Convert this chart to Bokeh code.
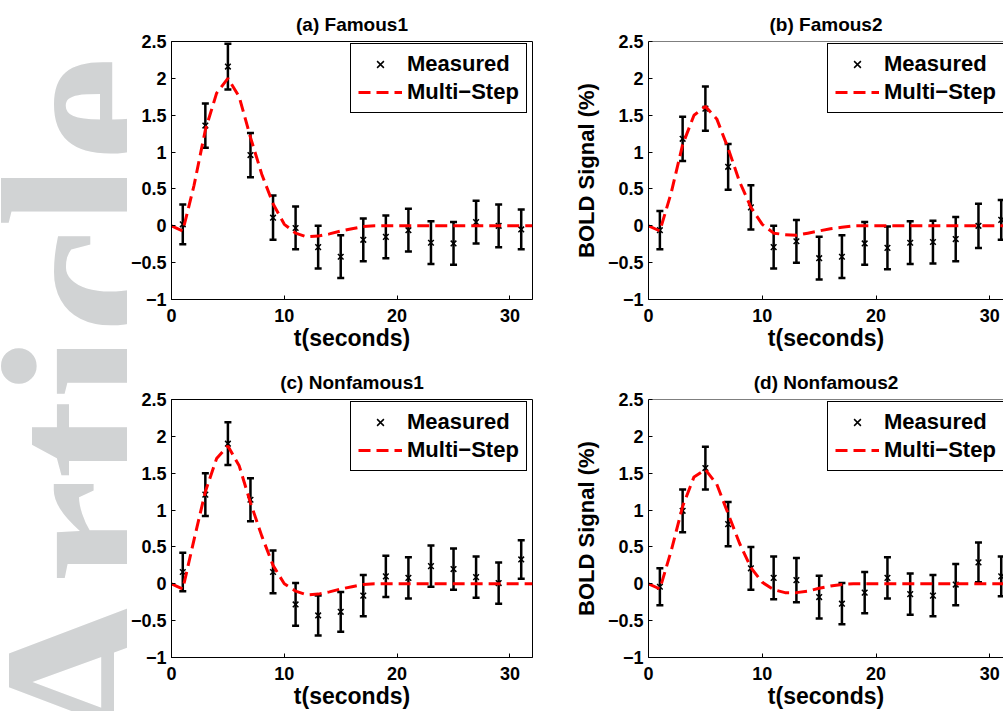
import math
from bokeh.plotting import figure
from bokeh.models import (Range1d, FixedTicker, Whisker, TeeHead, ColumnDataSource,
                          Legend, LegendItem, Label, Span)
from bokeh.layouts import row, column
from bokeh.embed import file_html
from bokeh.resources import INLINE

# ---------------- data ----------------
t_meas = [1, 3, 5, 7, 9, 11, 13, 15, 17, 19, 21, 23, 25, 27, 29, 31]
t_fit = list(range(0, 33))

famous1_mean = [0.02, 1.36, 2.16, 0.96, 0.11, -0.03, -0.29, -0.42, -0.19, -0.15, -0.06, -0.23, -0.24, 0.05, 0.00, -0.05]
famous1_err = [0.27, 0.30, 0.31, 0.30, 0.30, 0.29, 0.29, 0.29, 0.29, 0.29, 0.29, 0.29, 0.29, 0.29, 0.29, 0.27]
famous1_fit = [0, -0.07, 0.55, 1.3, 1.8, 2.0, 1.75, 1.2, 0.7, 0.3, 0.02, -0.1, -0.15, -0.14, -0.11, -0.07, -0.04,
               -0.01, 0, 0, 0, 0, 0, 0, 0, 0, 0, 0, 0, 0, 0, 0, 0]

famous2_mean = [-0.06, 1.18, 1.59, 0.80, 0.25, -0.29, -0.21, -0.44, -0.42, -0.24, -0.30, -0.23, -0.22, -0.18, 0.00, 0.08]
famous2_err = [0.26, 0.30, 0.30, 0.31, 0.30, 0.29, 0.29, 0.29, 0.29, 0.29, 0.29, 0.29, 0.29, 0.30, 0.30, 0.27]
famous2_fit = [0, -0.07, 0.45, 1.1, 1.5, 1.62, 1.45, 1.05, 0.6, 0.25, 0.02, -0.1, -0.12, -0.13, -0.1, -0.07, -0.04,
               -0.02, 0, 0, 0, 0, 0, 0, 0, 0, 0, 0, 0, 0, 0, 0, 0]

nonfamous1_mean = [0.16, 1.21, 1.90, 1.14, 0.16, -0.28, -0.43, -0.38, -0.16, 0.10, 0.08, 0.24, 0.20, 0.09, 0.01, 0.33]
nonfamous1_err = [0.26, 0.29, 0.29, 0.29, 0.29, 0.29, 0.27, 0.27, 0.28, 0.28, 0.28, 0.28, 0.28, 0.28, 0.28, 0.26]
nonfamous1_fit = [0, -0.07, 0.6, 1.25, 1.7, 1.87, 1.6, 1.1, 0.65, 0.25, 0.0, -0.1, -0.15, -0.14, -0.11, -0.07, -0.04,
                  -0.01, 0, 0, 0, 0, 0, 0, 0, 0, 0, 0, 0, 0, 0, 0, 0]

nonfamous2_mean = [-0.04, 0.99, 1.57, 0.81, 0.21, 0.08, 0.05, -0.18, -0.27, -0.12, 0.08, -0.14, -0.16, -0.01, 0.29, 0.10]
nonfamous2_err = [0.25, 0.29, 0.29, 0.30, 0.29, 0.29, 0.30, 0.29, 0.28, 0.28, 0.28, 0.28, 0.28, 0.28, 0.27, 0.27]
nonfamous2_fit = [0, -0.07, 0.45, 1.05, 1.45, 1.55, 1.35, 0.95, 0.55, 0.22, 0.02, -0.08, -0.12, -0.12, -0.1, -0.06, -0.03,
                  -0.01, 0, 0, 0, 0, 0, 0, 0, 0, 0, 0, 0, 0, 0, 0, 0]

titles = ["(a) Famous1", "(b) Famous2", "(c) Nonfamous1", "(d) Nonfamous2"]
y_ticks = [-1, -0.5, 0, 0.5, 1, 1.5, 2, 2.5]
y_tick_labels = ["\u22121", "\u22120.5", "0", "0.5", "1", "1.5", "2", "2.5"]
x_ticks = [0, 10, 20, 30]
x_label = "t(seconds)"
y_label = "BOLD Signal (%)"
legend_labels = ["Measured", "Multi\u2212Step"]
watermark_text = "Article"

FONT = "Liberation Sans"


def make_panel(title, mean, err, fit, left_col, top_row):
    width = 433 if left_col else 443
    height = 359 if top_row else 352
    x_end = 32 if left_col else 31.2
    p = figure(width=width, height=height, output_backend="svg", toolbar_location=None,
               x_range=Range1d(0, x_end), y_range=Range1d(-1, 2.5),
               min_border_left=41 if left_col else 88,
               min_border_right=28 if left_col else 0,
               min_border_top=41 if top_row else 40,
               min_border_bottom=60 if top_row else 54,
               title=title)
    p.background_fill_color = "white"
    p.border_fill_color = "white"
    p.xgrid.visible = False
    p.ygrid.visible = False
    if left_col:
        p.outline_line_color = "black"
        p.outline_line_width = 1
        p.outline_line_alpha = 1
    else:
        p.outline_line_color = None
        p.add_layout(Span(location=2.5, dimension="width", line_color="black", line_width=1))

    p.title.align = "center"
    p.title.text_font = FONT
    p.title.text_font_style = "bold"
    p.title.text_font_size = "19px"
    p.title.text_color = "black"
    p.title.standoff = 13
    if not left_col:
        p.title.offset = 4

    for ax in (p.xaxis[0], p.yaxis[0]):
        ax.axis_line_color = "black"
        ax.axis_line_width = 1
        ax.major_tick_in = 4
        ax.major_tick_out = 0
        ax.minor_tick_line_color = None
        ax.major_tick_line_color = "black"
        ax.major_label_text_font = FONT
        ax.major_label_text_font_style = "bold"
        ax.major_label_text_font_size = "18px"
        ax.major_label_text_color = "black"
        ax.axis_label_text_font = FONT
        ax.axis_label_text_font_style = "bold"
        ax.axis_label_text_font_size = "23px"
        ax.axis_label_text_color = "black"

    p.xaxis.ticker = FixedTicker(ticks=x_ticks)
    p.xaxis.major_label_standoff = 9
    p.xaxis.axis_label = x_label
    p.xaxis.axis_label_standoff = 0

    p.yaxis.ticker = FixedTicker(ticks=y_ticks)
    p.yaxis.major_label_overrides = {k: v for k, v in zip(y_ticks, y_tick_labels)}
    p.yaxis.major_label_standoff = 5
    if not left_col:
        p.yaxis.axis_label = y_label
        p.yaxis.axis_label_standoff = 6
        p.yaxis.axis_label_text_font_size = "22px"

    src = ColumnDataSource(dict(t=t_meas, m=mean,
                                up=[a + b for a, b in zip(mean, err)],
                                lo=[a - b for a, b in zip(mean, err)]))
    fit_src = ColumnDataSource(dict(t=t_fit, y=fit))

    wh = Whisker(base="t", upper="up", lower="lo", source=src,
                 line_color="black", line_width=2.5,
                 upper_head=TeeHead(size=7, line_color="black", line_width=2.5),
                 lower_head=TeeHead(size=7, line_color="black", line_width=2.5))
    p.add_layout(wh)
    meas_r = p.scatter("t", "m", source=src, marker="x", size=8, line_color="black", line_width=1.5)
    fit_r = p.line("t", "y", source=fit_src, line_color="#ff0000", line_width=3, line_dash="12 6")

    leg = Legend(items=[LegendItem(label=legend_labels[0], renderers=[meas_r]),
                        LegendItem(label=legend_labels[1], renderers=[fit_r])],
                 location=(179, 186))
    leg.label_text_font = FONT
    leg.label_text_font_style = "bold"
    leg.label_text_font_size = "22px"
    leg.label_text_color = "black"
    leg.border_line_color = "black"
    leg.border_line_width = 1
    leg.border_line_alpha = 1
    leg.background_fill_color = "white"
    leg.background_fill_alpha = 1
    leg.padding = 7
    leg.spacing = 2
    leg.margin = 0
    leg.glyph_width = 44
    leg.glyph_height = 24
    leg.label_height = 24
    leg.label_standoff = 5
    p.add_layout(leg, "center")
    return p


pa = make_panel(titles[0], famous1_mean, famous1_err, famous1_fit, True, True)
pb = make_panel(titles[1], famous2_mean, famous2_err, famous2_fit, False, True)
pc = make_panel(titles[2], nonfamous1_mean, nonfamous1_err, nonfamous1_fit, True, False)
pd = make_panel(titles[3], nonfamous2_mean, nonfamous2_err, nonfamous2_fit, False, False)

# watermark strip (clipped at its right edge like the reference)
wm = figure(width=127, height=711, output_backend="svg", toolbar_location=None,
            x_range=Range1d(0, 127), y_range=Range1d(711, 0),
            x_axis_type=None, y_axis_type=None, min_border=0)
wm.grid.visible = False
wm.outline_line_color = None
wm.background_fill_color = "white"
wm.border_fill_color = "white"
wm.add_layout(Label(x=85, y=756, text=watermark_text, angle=math.pi / 2,
                    text_font="Liberation Serif", text_font_style="bold",
                    text_font_size="238px", text_color="#d1d3d4",
                    text_align="left", text_baseline="alphabetic"))

layout = row(wm, column(row(pa, pb, spacing=0), row(pc, pd, spacing=0), spacing=0), spacing=0)

open("out.html", "w").write(file_html(layout, INLINE))
